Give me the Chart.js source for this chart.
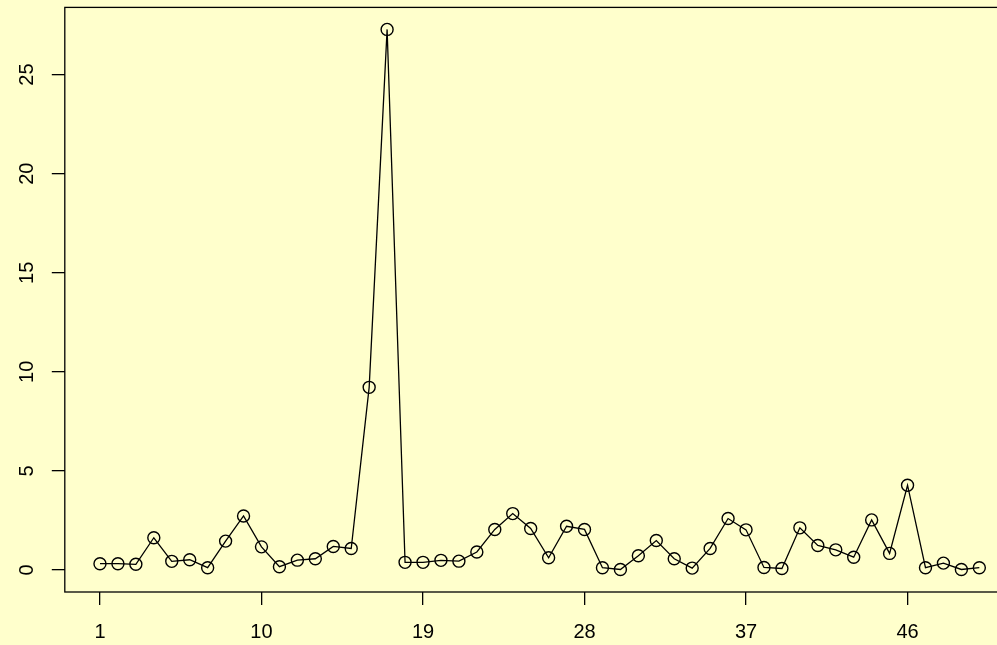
<!DOCTYPE html>
<html>
<head>
    <meta charset="UTF-8">
    <title>Line Chart</title>
    <script src="https://cdn.jsdelivr.net/npm/chart.js"></script>
    <style>
        html, body { margin: 0; padding: 0; background: #FFFFCC; overflow: hidden; }
        #wrap { width: 1030px; height: 645px; }
    </style>
</head>
<body>
    <div id="wrap">
        <canvas id="lineChart"></canvas>
    </div>

    <script>
        // index 1..50 and the values
        const xValues = [];
        for (let i = 1; i <= 50; i++) xValues.push(i);
        const yValues = [
            0.32, 0.32, 0.29, 1.63, 0.44, 0.52, 0.12, 1.46, 2.73, 1.17,
            0.17, 0.50, 0.57, 1.19, 1.09, 9.22, 27.28, 0.39, 0.39, 0.49,
            0.45, 0.91, 2.05, 2.85, 2.10, 0.62, 2.21, 2.05, 0.12, 0.03,
            0.72, 1.49, 0.57, 0.10, 1.09, 2.60, 2.03, 0.13, 0.08, 2.13,
            1.24, 1.02, 0.65, 2.53, 0.84, 4.28, 0.12, 0.35, 0.03, 0.12
        ];
        const xTicks = [1, 10, 19, 28, 37, 46];
        const yTicks = [0, 5, 10, 15, 20, 25];

        const FONT = 'Liberation Sans, Arial, Helvetica, sans-serif';
        const FONT_SIZE = 20;

        // background + R-style box + rotated y labels
        const rStyle = {
            id: 'rStyle',
            beforeDraw(chart) {
                const ctx = chart.ctx;
                ctx.save();
                ctx.fillStyle = '#FFFFCC';
                ctx.fillRect(0, 0, chart.width, chart.height);
                ctx.restore();
            },
            afterDraw(chart) {
                const ctx = chart.ctx;
                const a = chart.chartArea;
                ctx.save();
                ctx.strokeStyle = '#000';
                ctx.lineWidth = 1.3;
                ctx.strokeRect(a.left, a.top, a.right - a.left, a.bottom - a.top);

                const ys = chart.scales.y;
                ctx.fillStyle = '#000';
                ctx.font = FONT_SIZE + 'px ' + FONT;
                ctx.textAlign = 'center';
                ctx.textBaseline = 'middle';
                yTicks.forEach(v => {
                    const py = ys.getPixelForValue(v);
                    ctx.save();
                    ctx.translate(27, py);
                    ctx.rotate(-Math.PI / 2);
                    ctx.fillText(String(v), 0, 0);
                    ctx.restore();
                });
                ctx.restore();
            }
        };

        const ctx = document.getElementById('lineChart').getContext('2d');
        new Chart(ctx, {
            type: 'line',
            data: {
                datasets: [{
                    data: xValues.map((x, i) => ({ x: x, y: yValues[i] })),
                    borderColor: '#000',
                    borderWidth: 1.3,
                    pointRadius: 6,
                    pointBorderWidth: 1.4,
                    pointBorderColor: '#000',
                    pointBackgroundColor: 'rgba(0,0,0,0)',
                    fill: false,
                    tension: 0
                }]
            },
            options: {
                responsive: true,
                maintainAspectRatio: false,
                animation: false,
                events: [],
                layout: { padding: { left: 0, top: 6, right: 15.5, bottom: 0 } },
                plugins: { legend: { display: false }, tooltip: { enabled: false } },
                scales: {
                    x: {
                        type: 'linear',
                        min: -0.96,
                        max: 51.96,
                        afterBuildTicks: s => { s.ticks = xTicks.map(v => ({ value: v })); },
                        afterFit: s => { s.height = 53; },
                        grid: { drawOnChartArea: false, drawTicks: true, tickLength: 13, color: '#000', lineWidth: 1.3 },
                        border: { display: false },
                        ticks: {
                            color: '#000',
                            padding: 15,
                            maxRotation: 0,
                            autoSkip: false,
                            font: { family: FONT, size: FONT_SIZE }
                        }
                    },
                    y: {
                        type: 'linear',
                        min: -1.107,
                        max: 28.39,
                        afterBuildTicks: s => { s.ticks = yTicks.map(v => ({ value: v })); },
                        afterFit: s => { s.width = 64.8; },
                        grid: { drawOnChartArea: false, drawTicks: true, tickLength: 13, color: '#000', lineWidth: 1.3 },
                        border: { display: false },
                        ticks: { display: false }
                    }
                }
            },
            plugins: [rStyle]
        });
    </script>
</body>
</html>
